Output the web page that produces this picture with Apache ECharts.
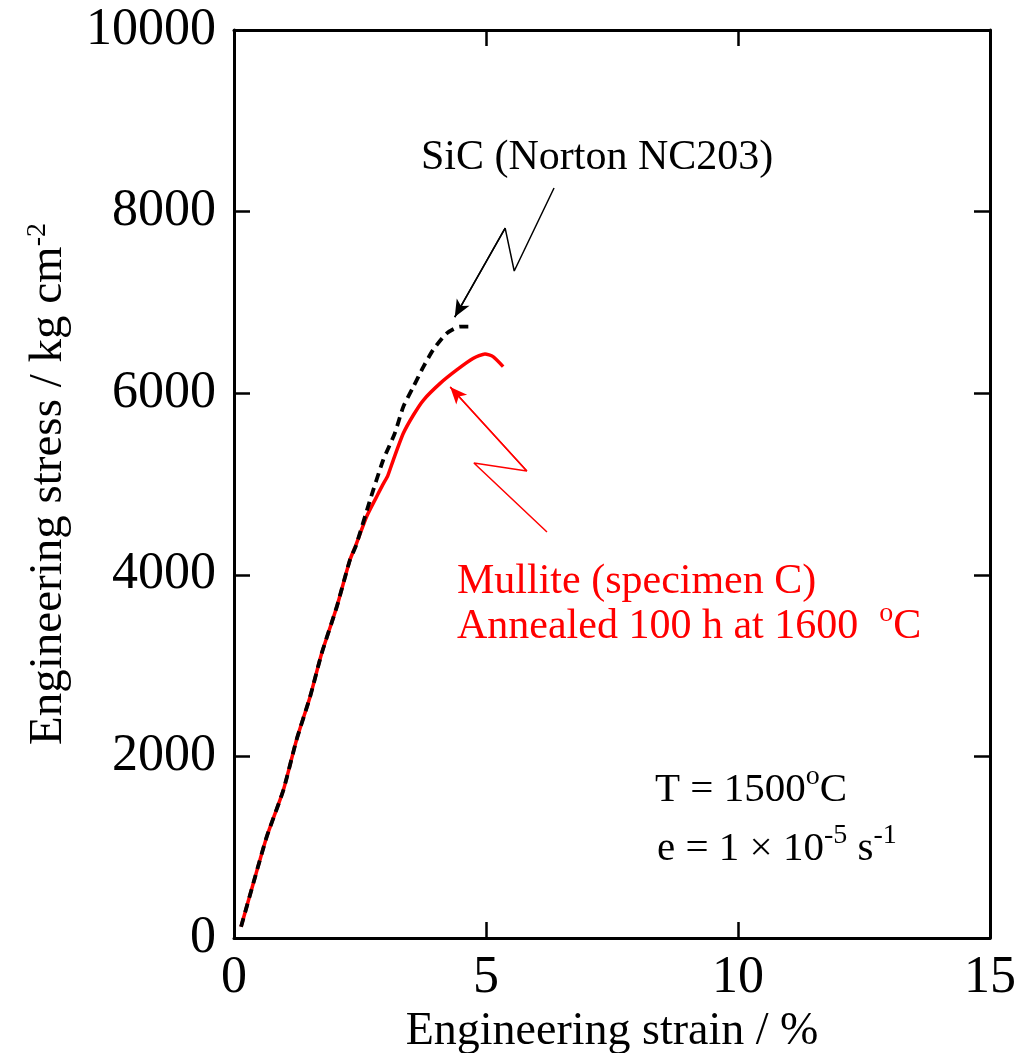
<!DOCTYPE html>
<html>
<head>
<meta charset="utf-8">
<script src="https://cdn.jsdelivr.net/npm/echarts@6/dist/echarts.min.js"></script>
<style>
html,body{margin:0;padding:0;background:#fff;}
#chart{width:1025px;height:1053px;}
</style>
</head>
<body>
<div id="chart"></div>
<script>
// ---- data (strain %, stress kg/cm^2) ----
const mulliteStrain = [0.14, 0.42, 0.65, 0.98, 1.24, 1.51, 1.74, 2.04, 2.30, 2.42, 2.63, 2.83, 2.95, 3.05, 3.16, 3.36, 3.56, 3.76, 4.09, 4.42, 4.75, 4.98, 5.14, 5.34];
const mulliteStress = [124, 675, 1116, 1630, 2181, 2658, 3135, 3649, 4163, 4330, 4640, 4860, 4990, 5090, 5264, 5558, 5760, 5925, 6108, 6256, 6384, 6432, 6403, 6293];
const sicStrain = [0.14, 0.42, 0.65, 0.98, 1.24, 1.51, 1.74, 2.04, 2.30, 2.42, 2.70, 2.96, 3.19, 3.36, 3.56, 3.76, 3.95, 4.22, 4.48, 4.65];
const sicStress = [124, 675, 1116, 1630, 2181, 2658, 3135, 3649, 4163, 4320, 4824, 5264, 5558, 5852, 6072, 6293, 6476, 6659, 6733, 6733];
// annotation arrow paths (data coords)
const sicArrowX = [6.35, 5.56, 5.38, 4.38];
const sicArrowY = [8260, 7346, 7819, 6839];
const mulArrowX = [6.21, 4.76, 5.81, 4.29];
const mulArrowY = [4471, 5231, 5143, 6068];
// axis ticks
const xTicks = [0, 5, 10, 15];
const yTicks = [0, 2000, 4000, 6000, 8000, 10000];

const zip = (a, b) => a.map((v, i) => [v, b[i]]);
const FONT = "'Liberation Serif','Times New Roman',serif";
const RED = '#ff0000';

function arrowSeries(xs, ys, color) {
  const pts = zip(xs, ys);
  const n = pts.length;
  return {
    type: 'line', data: pts, symbol: 'none', silent: true, z: 5,
    lineStyle: {color: color, width: 1.5},
    markLine: {
      silent: true, animation: false,
      symbol: ['none', 'arrow'], symbolSize: [11, 17],
      label: {show: false},
      lineStyle: {color: color, width: 1.5, type: 'solid'},
      data: [[{coord: pts[n - 2]}, {coord: pts[n - 1]}]]
    }
  };
}

// rich styles for ECharts text styles (use color)
function richAxis(size, supSize, pad, color) {
  return {
    n: {fontSize: size, fontFamily: FONT, color: color, lineHeight: size, verticalAlign: 'bottom'},
    s: {fontSize: supSize, fontFamily: FONT, color: color, lineHeight: supSize, padding: [0, 0, pad, 0], verticalAlign: 'bottom'}
  };
}
// rich styles for graphic (zrender) text (use fill)
function richG(size, supSize, pad, color) {
  return {
    n: {fontSize: size, fontFamily: FONT, fill: color, lineHeight: size, verticalAlign: 'bottom'},
    s: {fontSize: supSize, fontFamily: FONT, fill: color, lineHeight: supSize, padding: [0, 0, pad, 0], verticalAlign: 'bottom'}
  };
}

const chart = echarts.init(document.getElementById('chart'), null, {renderer: 'canvas'});
function axisCommon() {
  return {
    axisLine: {show: true, onZero: false, lineStyle: {color: '#000', width: 3}},
    axisTick: {show: true, inside: true, length: 16, lineStyle: {color: '#000', width: 2.5}},
    splitLine: {show: false}
  };
}
const plain = v => String(v);

chart.setOption({
  animation: false,
  backgroundColor: '#fff',
  grid: {left: 234, right: 35, top: 30, bottom: 115, containLabel: false, outerBoundsMode: 'none'},
  xAxis: [
    Object.assign({
      type: 'value', min: xTicks[0], max: xTicks[xTicks.length - 1], interval: 5, position: 'bottom',
      name: 'Engineering strain / %', nameLocation: 'middle', nameGap: 56,
      nameTextStyle: {fontFamily: FONT, fontSize: 46, color: '#000'},
      axisLabel: {fontFamily: FONT, fontSize: 52, color: '#000', margin: 14, formatter: plain}
    }, axisCommon()),
    Object.assign({
      type: 'value', min: xTicks[0], max: xTicks[xTicks.length - 1], interval: 5, position: 'top',
      axisLabel: {show: false}
    }, axisCommon())
  ],
  yAxis: [
    Object.assign({
      type: 'value', min: yTicks[0], max: yTicks[yTicks.length - 1], interval: 2000, position: 'left',
      name: '{n|Engineering stress / kg cm}{s|-2}', nameLocation: 'middle', nameGap: 162, nameRotate: 90,
      nameTextStyle: {rich: richAxis(47, 28, 20, '#000')},
      axisLabel: {fontFamily: FONT, fontSize: 52, color: '#000', margin: 18, formatter: plain}
    }, axisCommon()),
    Object.assign({
      type: 'value', min: yTicks[0], max: yTicks[yTicks.length - 1], interval: 2000, position: 'right',
      axisLabel: {show: false}
    }, axisCommon())
  ],
  series: [
    {
      name: 'Mullite', type: 'line', data: zip(mulliteStrain, mulliteStress), symbol: 'none', smooth: 0.2,
      lineStyle: {color: RED, width: 3.5}, z: 3
    },
    {
      name: 'SiC', type: 'line', data: zip(sicStrain, sicStress), symbol: 'none', smooth: 0.2,
      lineStyle: {color: '#000', width: 3.8, type: [9, 6]}, z: 4
    },
    arrowSeries(sicArrowX, sicArrowY, '#000'),
    arrowSeries(mulArrowX, mulArrowY, RED)
  ],
  graphic: [
    {type: 'text', left: 421, top: 137, silent: true,
     style: {text: 'SiC (Norton NC203)', font: "42px " + FONT, fill: '#000'}},
    {type: 'text', left: 457, top: 561, silent: true,
     style: {text: 'Mullite (specimen C)', font: "42px " + FONT, fill: RED}},
    {type: 'text', left: 457, top: 600, silent: true,
     style: {text: '{n|Annealed 100 h at 1600  }{s|o}{n|C}', rich: richG(42, 28, 20, RED)}},
    {type: 'text', left: 655, top: 763, silent: true,
     style: {text: '{n|T = 1500}{s|o}{n|C}', rich: richG(41, 28, 20, '#000')}},
    {type: 'text', left: 657, top: 822, silent: true,
     style: {text: '{n|e = 1 \u00d7 10}{s|-5}{n| s}{s|-1}', rich: richG(41, 28, 20, '#000')}}
  ]
});
</script>
</body>
</html>
